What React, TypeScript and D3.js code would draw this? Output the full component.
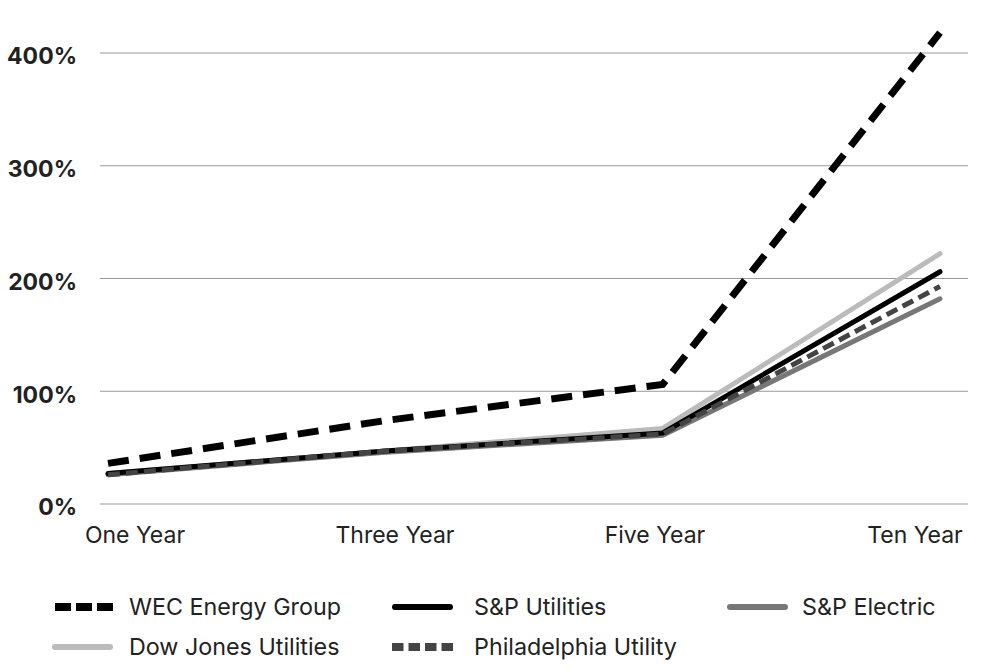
import React from "react";
import * as d3 from "d3";

const periods = ["One Year", "Three Year", "Five Year", "Ten Year"];
const wec = [36, 74, 106, 418];
const spUtilities = [27, 47, 63, 206];
const spElectric = [26, 46, 61, 182];
const dowJones = [27, 47, 67, 222];
const philadelphia = [26, 47, 62, 193];
const yTicks = [0, 100, 200, 300, 400];

const series = [
  { name: "Dow Jones Utilities", values: dowJones, color: "#bbbbbb", width: 5, dash: null },
  { name: "S&P Electric", values: spElectric, color: "#777777", width: 5, dash: null },
  { name: "S&P Utilities", values: spUtilities, color: "#000000", width: 5, dash: null },
  { name: "Philadelphia Utility", values: philadelphia, color: "#444444", width: 5, dash: "12,6" },
  { name: "WEC Energy Group", values: wec, color: "#000000", width: 7, dash: "21,11" },
];

const legendItems = [
  { name: "WEC Energy Group", color: "#000000", dash: "16,5", width: 8, x: 55, row: 0, cap: "butt" },
  { name: "S&P Utilities", color: "#000000", dash: null, width: 6, x: 395, row: 0, cap: "round" },
  { name: "S&P Electric", color: "#777777", dash: null, width: 6, x: 730, row: 0, cap: "round" },
  { name: "Dow Jones Utilities", color: "#bbbbbb", dash: null, width: 6, x: 55, row: 1, cap: "round" },
  { name: "Philadelphia Utility", color: "#444444", dash: "11.5,5", width: 8, x: 392, row: 1, cap: "butt" },
];

export default function App() {
  const W = 1000, H = 671;
  const x = d3.scalePoint<string>().domain(periods).range([108, 940]);
  const xLabel = d3.scalePoint<string>().domain(periods).range([135, 915]);
  const y = d3.scaleLinear().domain([0, 400]).range([504, 53]);
  const line = d3.line<number>().x((_, i) => x(periods[i])!).y((d) => y(d));
  const font = "Inter, Roboto, sans-serif";
  return (
    <svg width={W} height={H} style={{ position: "absolute", left: 0, top: 0, background: "#fff" }}>
      {yTicks.map((t) => (
        <g key={t}>
          <line x1={100} x2={968} y1={y(t)} y2={y(t)} stroke="#999" strokeWidth={1} />
          <text x={77} y={y(t) + 3} dy="0.36em" textAnchor="end" fontFamily={font} fontWeight={700} fontSize={23} fill="#222">
            {t}%
          </text>
        </g>
      ))}
      {periods.map((p) => (
        <text key={p} x={xLabel(p)} y={543} textAnchor="middle" fontFamily={font} fontSize={23} fill="#222">
          {p}
        </text>
      ))}
      {series.map((s) => (
        <path
          key={s.name}
          d={line(s.values)!}
          fill="none"
          stroke={s.color}
          strokeWidth={s.width}
          strokeDasharray={s.dash ?? undefined}
          strokeLinejoin="miter"
          strokeLinecap={s.dash ? "butt" : "round"}
        />
      ))}
      {legendItems.map((l) => {
        const ly = 607 + l.row * 40;
        const len = l.cap === "round" ? 55 : 61;
        return (
          <g key={l.name}>
            <line x1={l.x} x2={l.x + len} y1={ly} y2={ly} stroke={l.color} strokeWidth={l.width}
              strokeDasharray={l.dash ?? undefined} strokeLinecap={l.cap as any} />
            <text x={l.x < 100 ? 129 : l.x < 500 ? 474 : 802} y={ly} dy="0.36em" fontFamily={font} fontSize={23.3} fill="#222">
              {l.name}
            </text>
          </g>
        );
      })}
    </svg>
  );
}
